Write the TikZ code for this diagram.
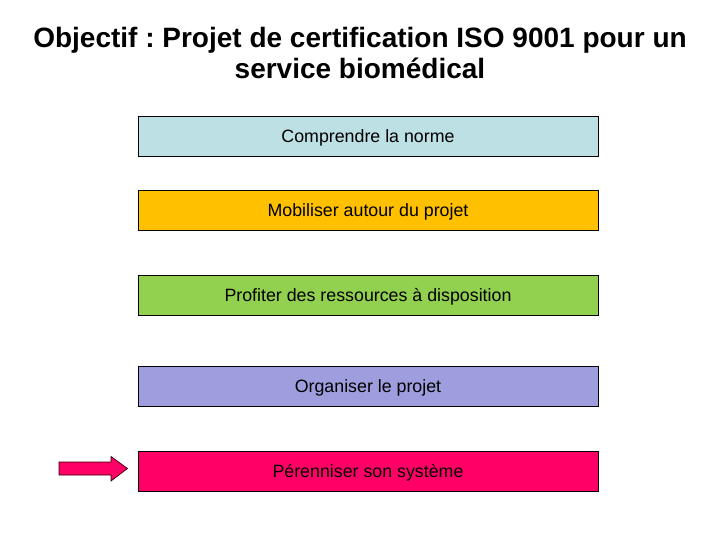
\documentclass[tikz,border=0pt]{standalone}
\usepackage{fontspec}
\setmainfont{Liberation Sans}
\frenchspacing
\definecolor{cblue}{RGB}{188,224,228}
\definecolor{corange}{RGB}{255,192,0}
\definecolor{cgreen}{RGB}{146,208,80}
\definecolor{cviolet}{RGB}{158,158,222}
\definecolor{cpink}{RGB}{255,0,102}
\begin{document}
\begin{tikzpicture}[x=1pt,y=-1pt,
  stepbox/.style={draw=black, line width=0.8pt, minimum width=460pt, minimum height=40pt,
    inner sep=0pt, text height=13pt, text depth=0pt, font=\fontsize{17.8}{20}\selectfont, text=black},
  titletext/.style={font=\fontsize{28}{31}\selectfont\bfseries, align=center, inner sep=0pt}]
\useasboundingbox (0,0) rectangle (720,540);
\fill[white] (0,0) rectangle (720,540);
\node[titletext, anchor=north] (title) at (360,27) {Objectif : Projet de certification ISO 9001 pour un\\service biomédical};
\node[stepbox, fill=cblue] (b1) at (368,136.5) {Comprendre la norme};
\node[stepbox, fill=corange] (b2) at (368,210) {Mobiliser autour du projet};
\node[stepbox, fill=cgreen] (b3) at (368,295) {Profiter des ressources à disposition};
\node[stepbox, fill=cviolet] (b4) at (368,386) {Organiser le projet};
\node[stepbox, fill=cpink] (b5) at (368,471) {Pérenniser son système};
\draw[fill=cpink, draw=black!80!red, line width=0.7pt, line join=miter]
  (59,462) -- (111,462) -- (111,456.5) -- (127.5,468.5) -- (111,481) -- (111,475) -- (59,475) -- cycle;
\end{tikzpicture}
\end{document}
